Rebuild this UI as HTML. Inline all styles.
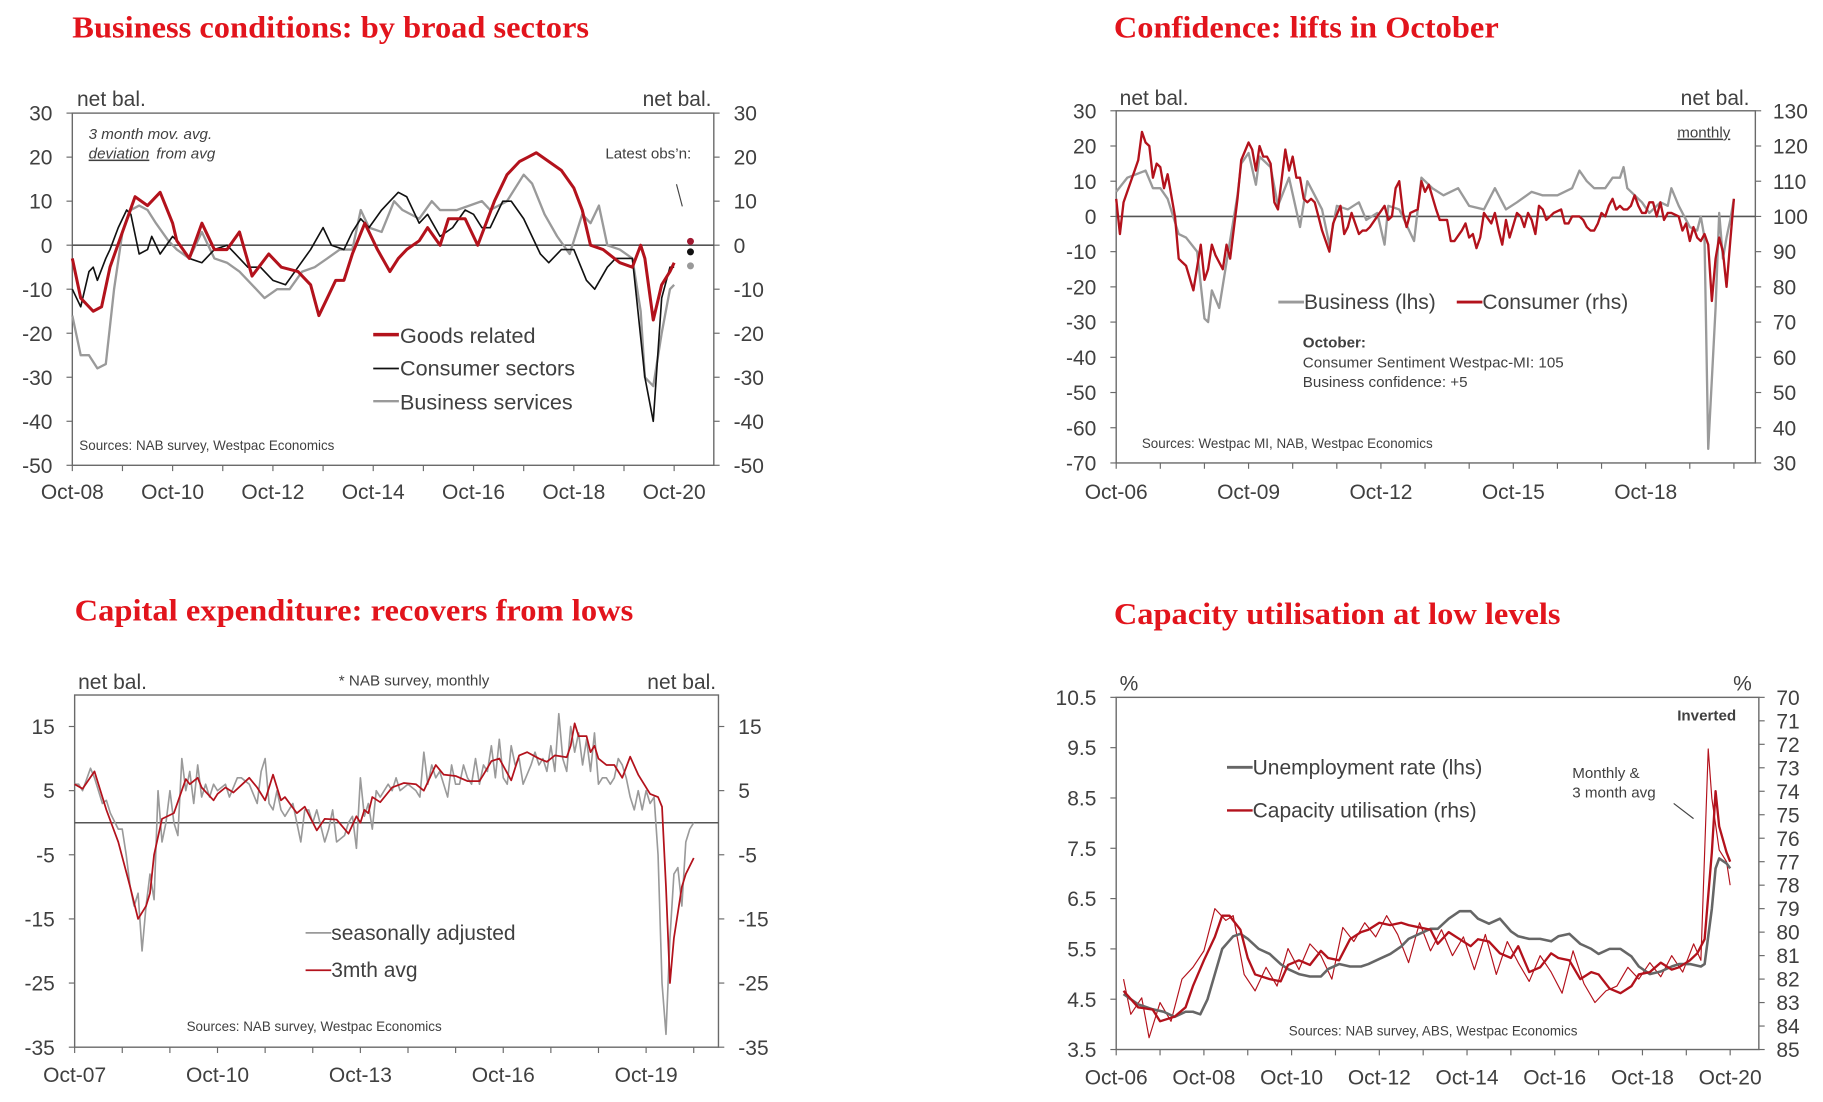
<!DOCTYPE html>
<html><head><meta charset="utf-8">
<style>
html,body{margin:0;padding:0;background:#fff;}
svg{display:block;}
text{font-family:"Liberation Sans",sans-serif;fill:#404040;}
.title{font-family:"Liberation Serif",serif;font-weight:bold;fill:#e2141c;font-size:26px;}
.ax{font-size:18px;}
.sm{font-size:13px;}
.src{font-size:11.5px;}
.leg{font-size:18.5px;}
</style></head>
<body>
<svg id="root" width="1823" height="1102" viewBox="0 0 1563 945" preserveAspectRatio="none" xmlns="http://www.w3.org/2000/svg">
<text class="title" x="62" y="32" textLength="443" lengthAdjust="spacingAndGlyphs">Business conditions: by broad sectors</text>
<text class="title" x="955" y="32" textLength="330" lengthAdjust="spacingAndGlyphs">Confidence: lifts in October</text>
<text class="title" x="64" y="532" textLength="479" lengthAdjust="spacingAndGlyphs">Capital expenditure: recovers from lows</text>
<text class="title" x="955" y="535" textLength="383" lengthAdjust="spacingAndGlyphs">Capacity utilisation at low levels</text>
<g id="c1"></g>
<g id="c2"></g>
<g id="c3"></g>
<g id="c4"></g>
</svg>
<script>
// ---- Chart 1 data (months since Oct-08) ----
const c1GoodsM = [0,2,5,7,9,12,15,18,21,24,25,28,31,34,37,40,43,47,50,54,57,59,61,63,65,67,70,73,76,78,80,83,85,88,90,94,97,101,104,107,109,111,114,117,120,122,124,127,131,134,136,137,139,141,143,144];
const c1GoodsV = [-3,-12,-15,-14,-5,3,11,9,12,5,1,-3,5,-1,-1,3,-7,-2,-5,-6,-9,-16,-12,-8,-8,-2,5,-1,-6,-3,-1,1,4,0,6,6,0,10,16,19,20,21,19,17,13,8,0,-1,-4,-5,0,-3,-17,-9,-6,-4];
const c1ConsM = [0,2,4,5,6,8,9,11,13,14,16,18,19,21,24,25,28,31,34,37,39,42,45,48,51,54,57,60,62,65,67,69,71,74,76,78,80,83,85,88,91,94,96,98,100,103,105,108,112,114,117,120,123,125,128,130,134,137,139,141,143,144];
const c1ConsV = [-10,-14,-6,-5,-8,-3,-1,4,8,7,-2,-1,2,-2,2,1,-3,-4,-1,0,-2,-5,-5,-8,-9,-5,-1,4,0,-1,3,6,4,8,10,12,11,5,7,2,4,8,7,4,4,10,10,6,-2,-4,-1,-1,-8,-10,-5,-3,-3,-30,-40,-12,-5,-5];
const c1BusM = [0,2,4,6,8,10,12,14,16,18,20,23,25,28,31,34,37,40,43,46,49,52,55,58,61,64,67,69,71,74,77,79,83,86,88,92,95,98,100,104,108,110,113,116,119,122,124,126,128,131,134,136,137,139,141,143,144];
const c1BusV = [-16,-25,-25,-28,-27,-10,3,8,9,8,5,1,-1,-3,3,-3,-4,-6,-9,-12,-10,-10,-6,-5,-3,-1,-1,8,4,3,10,8,6,10,8,8,9,10,8,10,16,14,7,2,-2,7,5,9,0,-1,-3,-15,-30,-32,-20,-10,-9];
const c1YTicks = [30,20,10,0,-10,-20,-30,-40,-50];
const c1XLabels = ["Oct-08","Oct-10","Oct-12","Oct-14","Oct-16","Oct-18","Oct-20"];

// ---- Chart 2 data (months since Oct-06) ----
const c2BusM = [0,3,8,10,12,14,17,19,22,24,25,26,28,30,33,34,36,38,39,42,44,47,50,52,56,58,60,63,66,68,71,73,74,77,81,83,86,89,93,96,100,103,106,109,113,116,120,124,126,128,130,133,135,137,138,139,143,145,148,150,151,153,156,158,159,160,161,163,164,165,166,167,168];
const c2BusV = [7,11,13,8,8,5,-5,-6,-10,-29,-30,-21,-26,-13,6,15,18,9,17,14,3,11,-3,10,2,-8,3,2,4,-1,1,-8,3,2,-7,11,8,6,8,3,2,8,2,4,7,6,6,8,13,10,8,8,11,11,14,8,4,1,4,3,8,3,-3,-4,0,-6,-66,-26,1,-12,-6,-1,5];
const c2ConM = [0,1,2,4,5,6,7,8,9,10,11,12,13,14,16,17,18,19,21,23,24,25,26,27,29,30,31,33,34,36,37,38,39,40,41,42,43,44,46,47,48,49,50,51,52,53,54,55,56,58,59,61,62,63,64,66,67,68,69,71,73,74,75,76,77,78,79,80,82,83,84,85,87,88,89,90,91,92,94,95,96,97,98,99,100,102,103,104,105,106,107,109,110,111,112,113,114,115,116,117,118,119,121,122,123,124,126,127,128,129,130,131,132,133,134,135,136,137,138,139,140,141,142,143,144,145,146,147,148,149,150,151,153,154,155,156,157,158,159,160,161,162,163,164,165,166,167,168];
const c2ConV = [105,95,104,110,113,116,124,121,120,111,115,114,108,112,100,88,87,86,79,92,82,85,92,89,85,92,88,105,116,121,119,113,120,117,117,115,104,102,119,113,117,111,111,105,104,105,104,100,96,90,98,103,95,97,101,95,96,96,97,100,103,99,100,108,110,101,97,101,102,110,107,109,102,99,99,99,93,93,96,98,94,95,91,94,101,98,101,96,92,99,94,101,100,97,101,99,95,103,102,99,100,101,102,98,98,100,100,99,97,96,96,98,101,100,103,105,102,103,102,102,103,106,103,101,101,104,104,100,104,99,101,101,100,96,98,93,97,94,93,95,92,76,88,94,90,80,93,105];
const c2YTicks = [30,20,10,0,-10,-20,-30,-40,-50,-60,-70];
const c2RTicks = [130,120,110,100,90,80,70,60,50,40,30];
const c2XLabels = ["Oct-06","Oct-09","Oct-12","Oct-15","Oct-18"];

// ---- Chart 3 data (months since Oct-07) ----
const c3AvgM = [0,2,5,8,11,14,16,18,19,20,22,25,28,29,31,32,35,36,38,40,44,46,48,50,52,53,56,58,61,63,66,69,71,72,73,74,75,77,80,83,86,88,91,93,96,99,102,103,105,107,110,112,114,117,119,121,124,125,126,127,129,130,131,132,134,136,138,140,142,145,147,148,149,150,151,153,154,156];
const c3AvgV = [6,5.3,8,2,-3,-10,-15,-13,-11,-5,0.6,1.5,6.8,6,7,5.5,3.5,4.5,5.5,4.7,7,5.5,3.5,7.5,3.5,4,1.5,2.5,-1.2,0.6,0.5,-1.7,1,0,2,1.5,4,3.2,5.5,6.2,6,5,9,7.5,7.3,6.5,6.5,7.5,9.6,10,6.6,10.5,11,10,9.5,10.5,10.2,12,15.5,13.5,13.5,11,12,10,9,9,7,10.3,7.5,4.5,4,2.5,-10,-25,-18,-10,-8,-5.5];
const c3SaM = [0,1,2,4,5,7,8,9,11,12,13,14,15,16,17,18,19,20,21,22,23,24,25,26,27,28,29,30,31,32,33,34,35,36,38,39,41,42,44,46,47,48,49,50,51,52,53,55,56,57,58,59,60,61,63,64,65,66,68,69,70,71,72,73,74,75,76,77,79,80,81,82,84,86,87,88,89,90,91,92,93,94,95,96,97,98,99,100,101,102,103,104,105,106,107,108,109,110,111,112,113,115,116,117,118,119,120,121,122,123,124,125,126,127,128,129,130,131,132,133,134,135,136,137,138,139,140,141,142,143,144,145,146,147,148,149,150,151,152,153,154,155,156];
const c3SaV = [6,6,5,8.5,7,3,3.5,1.5,-1,-1,-5,-10,-13,-11,-20,-13,-8,-12,5,-3,0,5,0,-2,10,5,8,3,9,4,6,4,6,5,6,4,7,7,6,3,8,10,3,2,5,2,1,3,0,-3,2,2,0,2,-3,-1,2,-3,-2,0,1,-4,7,1,3,-1,5,4,6,5,7,5,6,5,4,11,6,9,7,8,6,4,9,6,6,9,7,6,10,6,9,8,12,7,13,7,6,12,9,10,6,9,11,9,10,8,12,8,17,10,8,15,11,14,9,13,8,14,6,7,7,6,7,10,9,7,4,2,5,2,5,3,4,-5,-25,-33,-18,-8,-7,-13,-3,-1,0];
const c3YTicks = [15,5,-5,-15,-25,-35];
const c3XLabels = ["Oct-07","Oct-10","Oct-13","Oct-16","Oct-19"];

// ---- Chart 4 data (months since Oct-06) ----
const c4UnM = [2,6,10,13,16,19,21,23,25,27,29,32,34,36,39,42,45,47,50,53,56,58,61,64,67,69,72,75,78,80,83,86,88,91,94,97,99,102,105,108,110,113,116,119,121,124,127,130,132,135,138,141,143,146,149,152,154,157,160,161,163,164,165,167,168];
const c4UnV = [4.6,4.4,4.3,4.25,4.15,4.25,4.25,4.2,4.5,5.0,5.5,5.75,5.8,5.7,5.5,5.4,5.2,5.1,5.0,4.95,4.95,5.1,5.2,5.15,5.15,5.2,5.3,5.4,5.55,5.7,5.8,5.9,5.9,6.1,6.25,6.25,6.1,6.0,6.1,5.85,5.75,5.7,5.7,5.65,5.75,5.8,5.6,5.5,5.4,5.5,5.5,5.35,5.15,5.0,5.05,5.15,5.2,5.2,5.15,5.2,6.3,7.1,7.3,7.2,7.1];
const c4CapM = [2,6,10,12,16,19,21,24,27,29,31,34,36,38,42,45,47,50,53,56,58,61,64,67,69,72,75,78,80,83,86,88,91,94,97,99,102,105,108,110,113,116,119,121,124,127,130,132,135,138,141,143,146,149,152,154,157,159,161,163,164,165,167,168];
const c4CapV = [82.5,83.2,83.3,83.8,83.6,83.2,82.3,81.2,80.2,79.3,79.3,79.9,81.1,81.8,82.0,82.1,81.4,81.2,81.4,80.8,81.1,81.2,80.3,80.0,79.9,79.6,79.7,79.6,79.7,79.8,79.9,80.5,80.0,80.3,80.6,80.3,80.4,80.9,81.1,80.6,81.7,81.5,80.9,81.1,81.2,82.0,81.7,81.8,82.4,82.6,82.3,81.8,81.7,81.3,81.6,81.5,81.2,80.9,80.3,76.6,74.0,75.5,76.6,77.0];
const c4CapMonthlyM = [2,4,7,9,12,15,18,21,24,27,30,32,35,38,41,44,47,50,53,56,59,62,65,68,71,74,77,80,83,86,89,92,95,98,101,104,107,110,113,116,119,122,125,128,131,134,137,140,143,146,149,152,155,158,160,162,163,165,167,168];
const c4CapMonthlyV = [82.0,83.5,82.8,84.5,83.0,83.8,82.0,81.5,80.8,79.0,79.5,79.3,81.8,82.5,81.5,82.3,80.7,81.6,80.5,81.0,82.0,79.8,80.4,79.6,80.2,79.3,80.1,81.3,79.6,80.8,79.9,81.0,80.2,81.6,80.1,81.8,80.4,81.3,82.1,81.0,81.7,82.6,80.8,82.2,83.0,82.5,82.3,81.5,82.0,81.3,81.9,81.0,81.7,80.5,81.2,72.2,74.3,76.5,77.0,78.0];
const c4YTicks = [10.5,9.5,8.5,7.5,6.5,5.5,4.5,3.5];
const c4RTicks = [70,71,72,73,74,75,76,77,78,79,80,81,82,83,84,85];
const c4XLabels = ["Oct-06","Oct-08","Oct-10","Oct-12","Oct-14","Oct-16","Oct-18","Oct-20"];

const NS = "http://www.w3.org/2000/svg";
function mk(parent, tag, attrs, txt){
  const e = document.createElementNS(NS, tag);
  for (const k in attrs) e.setAttribute(k, attrs[k]);
  if (txt !== undefined) e.textContent = txt;
  parent.appendChild(e);
  return e;
}
function pathFrom(ms, vs, sx, sy){
  let d = "";
  const n = Math.min(ms.length, vs.length);
  for (let i=0;i<n;i++){ d += (i?"L":"M") + sx(ms[i]).toFixed(1) + "," + sy(vs[i]).toFixed(1); }
  return d;
}
function frame(g, x0, x1, y0, y1){
  const r = mk(g,"rect",{x:x0,y:y0,width:x1-x0,height:y1-y0,fill:"none",stroke:"#6a6a6a","stroke-width":1.2});
  
  
}
function yAxis(g, ticks, sy, x0, x1, labelsRight, name){
  ticks.forEach(t=>{
    const y = sy(t);
    const tk = mk(g,"line",{x1:labelsRight?x1:x0-5,x2:labelsRight?x1+5:x0,y1:y,y2:y,stroke:"#6a6a6a"});
    
    
    const lb = mk(g,"text",{x:labelsRight?x1+17:x0-17,y:y+6.5,"text-anchor":labelsRight?"start":"end","class":"ax"}, String(t));
    
    
  });
}
function xAxis(g, labels, x0, step, yb, nticks, tstep, ylab){
  for (let i=0;i<nticks;i++){
    const x = x0 + i*tstep;
    const tk = mk(g,"line",{x1:x,x2:x,y1:yb,y2:yb+5,stroke:"#6a6a6a"});
    
    
  }
  labels.forEach((l,i)=>{
    const t = mk(g,"text",{x:x0+i*step,y:ylab,"text-anchor":"middle","class":"ax"}, l);
    
    
  });
}
function line(g, ms, vs, sx, sy, color, w, name){
  const p = mk(g,"path",{d:pathFrom(ms,vs,sx,sy),fill:"none",stroke:color,"stroke-width":w,"stroke-linejoin":"round"});
  
  
}
function txt(g, x, y, s, cls, name, extra){
  const a = {x:x,y:y,"class":cls};
  if (extra) for (const k in extra) a[k]=extra[k];
  const t = mk(g,"text",a,s);
  
  
  return t;
}
function legendLine(g, x, y, color, w, name){
  const l = mk(g,"line",{x1:x,x2:x+22,y1:y,y2:y,stroke:color,"stroke-width":w});
  
  
}
function zero(g,x0,x1,y,name){
  const z = mk(g,"line",{x1:x0,x2:x1,y1:y,y2:y,stroke:"#555","stroke-width":1.3});
  
  
}
const RED="#b3121c", GREY="#9a9a9a", DGREY="#666";

// ===== Chart 1 =====
(function(){
  const g = document.getElementById('c1');
  const X0=62,X1=612,Y0=97,Y1=399;
  const sx = m => X0 + m*43/12;
  const sy = v => Y0 + (30-v)*(Y1-Y0)/80;
  frame(g,X0,X1,Y0,Y1);
  yAxis(g,c1YTicks,sy,X0,X1,false,'left-y');
  yAxis(g,c1YTicks,sy,X0,X1,true,'right-y');
  xAxis(g,c1XLabels,X0,86,Y1,13,43,428);
  zero(g,X0,X1,sy(0),'zero-line');
  line(g,c1BusM,c1BusV,sx,sy,GREY,2,'business-services-line');
  line(g,c1ConsM,c1ConsV,sx,sy,"#111",1.4,'consumer-sectors-line');
  line(g,c1GoodsM,c1GoodsV,sx,sy,RED,2.6,'goods-related-line');
  txt(g,66,91,"net bal.","ax",'left-axis-unit');
  txt(g,610,91,"net bal.","ax",'right-axis-unit',{"text-anchor":"end"});
  txt(g,76,119,"3 month mov. avg.","sm",'note-mov-avg',{"font-style":"italic"});
  txt(g,76,136,"deviation","sm",'note-deviation',{"font-style":"italic","text-decoration":"underline"});
  txt(g,134,136,"from avg","sm",'note-from-avg',{"font-style":"italic"});
  txt(g,519,136,"Latest obs\u2019n:","sm",'latest-obs-label');
  const pt = mk(g,"line",{x1:580,y1:158,x2:585,y2:177,stroke:"#444"});
  
  
  [[207,"#a01830"],[216,"#111"],[228,"#999"]].forEach(d=>{
    const c = mk(g,"circle",{cx:592,cy:d[0],r:3,fill:d[1]});
    
    
  });
  legendLine(g,320,287,RED,3,'legend-goods-swatch');
  txt(g,343,294,"Goods related","leg",'legend-goods');
  legendLine(g,320,316,"#111",1.5,'legend-consumer-swatch');
  txt(g,343,322,"Consumer sectors","leg",'legend-consumer');
  legendLine(g,320,344,GREY,2,'legend-business-swatch');
  txt(g,343,351,"Business services","leg",'legend-business');
  txt(g,68,386,"Sources: NAB survey, Westpac Economics","src",'sources');
})();

// ===== Chart 2 =====
(function(){
  const g = document.getElementById('c2');
  const X0=957,X1=1505,Y0=95,Y1=397;
  const sx = m => X0 + m*37.83/12;
  const sy = v => Y0 + (30-v)*(Y1-Y0)/100;
  const syr = v => sy(v-100);
  frame(g,X0,X1,Y0,Y1);
  yAxis(g,c2YTicks,sy,X0,X1,false,'left-y');
  c2RTicks.forEach(t=>{
    const y=syr(t);
    const tk = mk(g,"line",{x1:X1,x2:X1+5,y1:y,y2:y,stroke:"#6a6a6a"});
    
    
    txt(g,X1+15,y+6.5,String(t),"ax",'right-y-label');
  });
  xAxis(g,c2XLabels,X0,113.5,Y1,15,37.83,428);
  zero(g,X0,X1,sy(0),'zero-line');
  line(g,c2BusM,c2BusV,sx,sy,GREY,2,'business-confidence-line');
  line(g,c2ConM,c2ConV,sx,syr,RED,2,'consumer-sentiment-line');
  txt(g,960,90,"net bal.","ax",'left-axis-unit');
  txt(g,1500,90,"net bal.","ax",'right-axis-unit',{"text-anchor":"end"});
  txt(g,1438,118,"monthly","sm",'monthly-note',{"text-decoration":"underline"});
  legendLine(g,1096,259,GREY,2.5,'legend-business-swatch');
  txt(g,1118,265,"Business (lhs)","ax",'legend-business');
  legendLine(g,1249,259,RED,2.5,'legend-consumer-swatch');
  txt(g,1271,265,"Consumer (rhs)","ax",'legend-consumer');
  txt(g,1117,298,"October:","sm",'october-heading',{"font-weight":"bold"});
  txt(g,1117,315,"Consumer Sentiment Westpac-MI: 105","sm",'october-consumer');
  txt(g,1117,332,"Business confidence: +5","sm",'october-business');
  txt(g,979,384,"Sources: Westpac MI, NAB, Westpac Economics","src",'sources');
})();

// ===== Chart 3 =====
(function(){
  const g = document.getElementById('c3');
  const X0=64,X1=616,Y0=596,Y1=898;
  const sx = m => X0 + m*40.83/12;
  const sy = v => Y1 - (v+35)*5.5;
  frame(g,X0,X1,Y0,Y1);
  yAxis(g,c3YTicks,sy,X0,X1,false,'left-y');
  yAxis(g,c3YTicks,sy,X0,X1,true,'right-y');
  xAxis(g,c3XLabels,X0,122.5,Y1,14,40.83,928);
  zero(g,X0,X1,sy(0),'zero-line');
  line(g,c3SaM,c3SaV,sx,sy,GREY,1.4,'seasonally-adjusted-line');
  line(g,c3AvgM,c3AvgV,sx,sy,RED,1.5,'three-month-avg-line');
  txt(g,67,591,"net bal.","ax",'left-axis-unit');
  txt(g,355,588,"* NAB survey, monthly","sm",'survey-note',{"text-anchor":"middle","font-size":"15px"});
  txt(g,614,591,"net bal.","ax",'right-axis-unit',{"text-anchor":"end"});
  legendLine(g,262,800,GREY,1.5,'legend-sa-swatch');
  txt(g,284,806,"seasonally adjusted","ax",'legend-sa');
  legendLine(g,262,832,RED,1.5,'legend-avg-swatch');
  txt(g,284,838,"3mth avg","ax",'legend-avg');
  txt(g,160,884,"Sources: NAB survey, Westpac Economics","src",'sources');
})();

// ===== Chart 4 =====
(function(){
  const g = document.getElementById('c4');
  const X0=957,X1=1508,Y0=598,Y1=900;
  const sx = m => X0 + m*37.6/12;
  const sy = v => Y0 + (10.5-v)*(Y1-Y0)/7;
  const syr = v => Y0 + (v-70)*(Y1-Y0)/15;
  frame(g,X0,X1,Y0,Y1);
  yAxis(g,c4YTicks,sy,X0,X1,false,'left-y');
  c4RTicks.forEach(t=>{
    const y=syr(t);
    const tk = mk(g,"line",{x1:X1,x2:X1+5,y1:y,y2:y,stroke:"#6a6a6a"});
    
    
    txt(g,X1+15,y+6.5,String(t),"ax",'right-y-label');
  });
  xAxis(g,c4XLabels,X0,75.2,Y1,15,37.6,930);
  line(g,c4CapMonthlyM,c4CapMonthlyV,sx,syr,RED,1,'capacity-monthly-line');
  line(g,c4UnM,c4UnV,sx,sy,DGREY,2.2,'unemployment-line');
  line(g,c4CapM,c4CapV,sx,syr,RED,2,'capacity-avg-line');
  txt(g,960,592,"%","ax",'left-axis-unit');
  txt(g,1486,592,"%","ax",'right-axis-unit');
  txt(g,1438,618,"Inverted","sm",'inverted-note',{"font-weight":"bold"});
  txt(g,1348,667,"Monthly &","sm",'monthly-note-1');
  txt(g,1348,684,"3 month avg","sm",'monthly-note-2');
  const pt = mk(g,"line",{x1:1435,y1:689,x2:1452,y2:702,stroke:"#444"});
  
  
  legendLine(g,1052,658,DGREY,2.5,'legend-unemployment-swatch');
  txt(g,1074,664,"Unemployment rate (lhs)","ax",'legend-unemployment');
  legendLine(g,1052,695,RED,2,'legend-capacity-swatch');
  txt(g,1074,701,"Capacity utilisation (rhs)","ax",'legend-capacity');
  txt(g,1105,888,"Sources: NAB survey, ABS, Westpac Economics","src",'sources');
})();
</script>
</body></html>
